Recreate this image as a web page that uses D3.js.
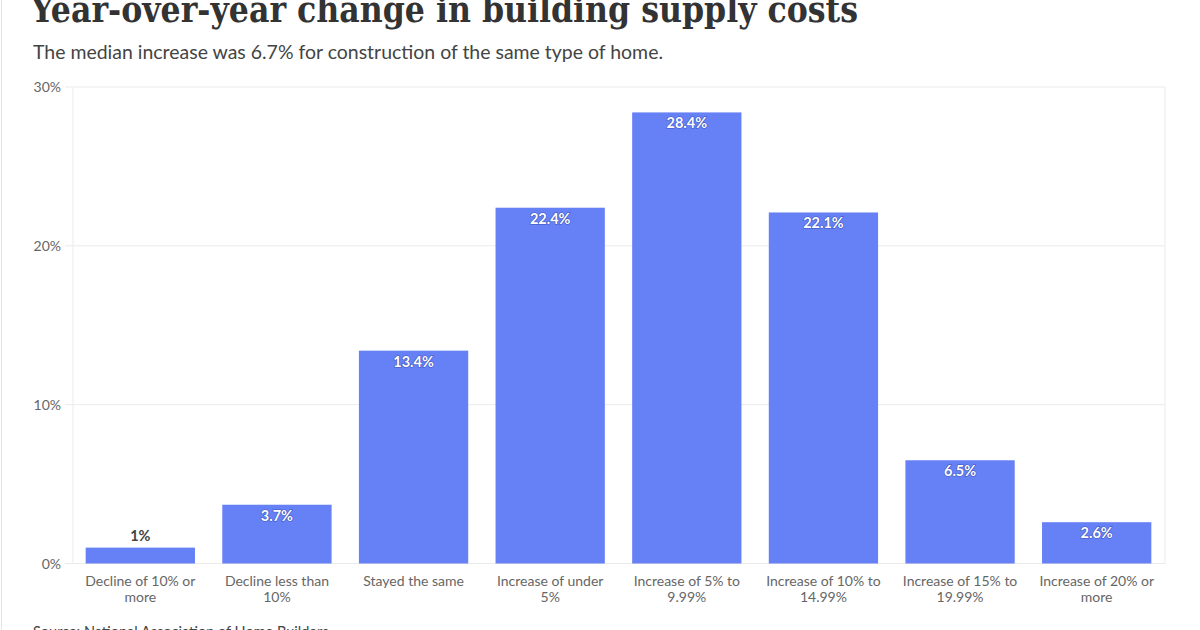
<!DOCTYPE html>
<html lang="en">
<head>
<meta charset="UTF-8">
<title>Year-over-year change in building supply costs</title>
<script src="https://d3js.org/d3.v7.min.js"></script>
<style>
    body {
        margin: 0;
        padding: 0;
        background: #fff;
        font-family: Lato, "Open Sans", sans-serif;
    }
    svg {
        display: block;
    }
    .grid line {
        stroke: #ebebeb;
    }
    .axis text {
        fill: #666;
        font-family: Lato, sans-serif;
    }
    .bar-label {
        font-family: Lato, sans-serif;
        font-weight: bold;
        font-size: 14.5px;
        paint-order: stroke;
    }
</style>
</head>
<body>
<svg id="chart"></svg>
<script>
    const categories = [
        "Decline of 10% or more",
        "Decline less than 10%",
        "Stayed the same",
        "Increase of under 5%",
        "Increase of 5% to 9.99%",
        "Increase of 10% to 14.99%",
        "Increase of 15% to 19.99%",
        "Increase of 20% or more"
    ];
    // line breaks as they appear under each bar
    const labelLines = [
        ["Decline of 10% or", "more"],
        ["Decline less than", "10%"],
        ["Stayed the same"],
        ["Increase of under", "5%"],
        ["Increase of 5% to", "9.99%"],
        ["Increase of 10% to", "14.99%"],
        ["Increase of 15% to", "19.99%"],
        ["Increase of 20% or", "more"]
    ];
    const values = [1, 3.7, 13.4, 22.4, 28.4, 22.1, 6.5, 2.6];
    const valueLabels = ["1%", "3.7%", "13.4%", "22.4%", "28.4%", "22.1%", "6.5%", "2.6%"];
    const yTicks = [0, 10, 20, 30];

    const width = 1200;
    const height = 630;
    const margin = { top: 87, right: 35, bottom: 66, left: 72 };

    const svg = d3.select("#chart")
        .attr("width", width)
        .attr("height", height);

    // faint frame on the left edge
    svg.append("line")
        .attr("x1", 1.5).attr("x2", 1.5)
        .attr("y1", 0).attr("y2", height)
        .attr("stroke", "#e4e4e4");

    // title and subtitle
    svg.append("text")
        .attr("x", 31)
        .attr("y", 22)
        .attr("font-family", "'DejaVu Serif', serif")
        .attr("font-weight", "bold")
        .attr("font-size", 35)
        .attr("fill", "#333")
        .attr("textLength", 827)
        .attr("lengthAdjust", "spacingAndGlyphs")
        .text("Year-over-year change in building supply costs");

    svg.append("text")
        .attr("x", 33)
        .attr("y", 59)
        .attr("font-size", 19)
        .attr("fill", "#444")
        .attr("textLength", 630)
        .attr("lengthAdjust", "spacingAndGlyphs")
        .text("The median increase was 6.7% for construction of the same type of home.");

    const x = d3.scaleBand()
        .domain(categories)
        .range([margin.left, width - margin.right])
        .paddingInner(0.2)
        .paddingOuter(0.1);

    const y = d3.scaleLinear()
        .domain([0, 30])
        .range([height - margin.bottom - 0.5, margin.top]);

    // horizontal gridlines
    svg.append("g")
        .attr("class", "grid")
        .selectAll("line")
        .data(yTicks)
        .join("line")
        .attr("x1", 65)
        .attr("x2", width - margin.right)
        .attr("y1", d => y(d))
        .attr("y2", d => y(d));

    // faint vertical frame lines of the plot
    svg.append("g")
        .attr("class", "grid")
        .selectAll("line")
        .data([margin.left + 1, width - margin.right])
        .join("line")
        .attr("x1", d => d).attr("x2", d => d)
        .attr("y1", y(30)).attr("y2", y(0));

    // y axis labels
    svg.append("g")
        .attr("class", "axis")
        .selectAll("text")
        .data(yTicks)
        .join("text")
        .attr("x", 61)
        .attr("y", d => y(d) + 5)
        .attr("text-anchor", "end")
        .attr("font-size", 14)
        .text(d => d + "%");

    // bars
    svg.append("g")
        .selectAll("rect")
        .data(values)
        .join("rect")
        .attr("x", (d, i) => x(categories[i]))
        .attr("y", d => y(d))
        .attr("width", x.bandwidth())
        .attr("height", d => y(0) - y(d))
        .attr("fill", "#6680f5");

    // value labels: inside the bar in white, above it when the bar is too short
    svg.append("g")
        .selectAll("text")
        .data(values)
        .join("text")
        .attr("class", "bar-label")
        .attr("x", (d, i) => x(categories[i]) + x.bandwidth() / 2)
        .attr("y", d => d < 2 ? y(d) - 7 : y(d) + 16)
        .attr("text-anchor", "middle")
        .attr("fill", d => d < 2 ? "#444" : "#fff")
        .attr("stroke", d => d < 2 ? "#fff" : "#3c55c0")
        .attr("stroke-width", d => d < 2 ? 2 : 1.2)
        .text((d, i) => valueLabels[i]);

    // category labels
    const catG = svg.append("g")
        .attr("class", "axis")
        .selectAll("text")
        .data(categories)
        .join("text")
        .attr("x", d => x(d) + x.bandwidth() / 2)
        .attr("y", 586)
        .attr("text-anchor", "middle")
        .attr("font-size", 14);

    catG.selectAll("tspan")
        .data((d, i) => labelLines[i])
        .join("tspan")
        .attr("x", function () { return d3.select(this.parentNode).attr("x"); })
        .attr("dy", (d, i) => i === 0 ? 0 : 15.5)
        .text(d => d);

    // source, cut by the bottom edge as in the original
    svg.append("text")
        .attr("x", 33)
        .attr("y", 637)
        .attr("font-size", 14.5)
        .attr("fill", "#444")
        .text("Source: National Association of Home Builders");
</script>
</body>
</html>
